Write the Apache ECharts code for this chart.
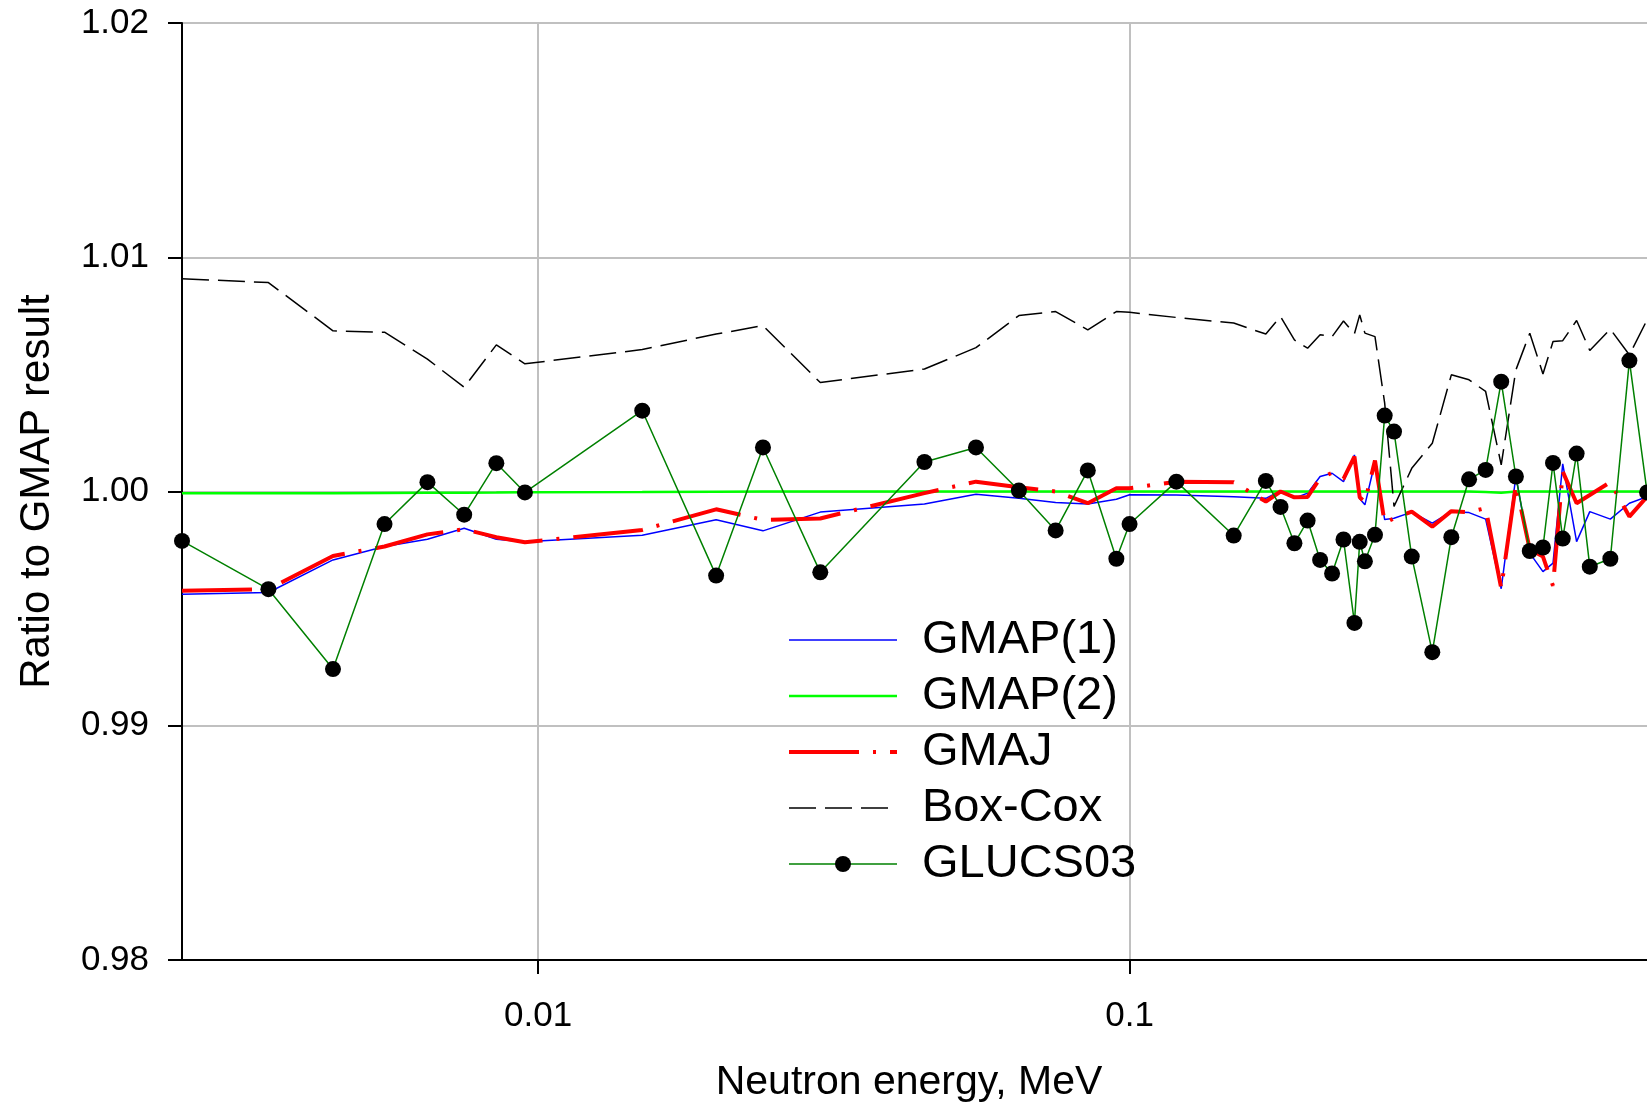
<!DOCTYPE html>
<html><head><meta charset="utf-8">
<script src="https://cdn.jsdelivr.net/npm/echarts@6/dist/echarts.min.js"></script>
<style>html,body{margin:0;padding:0;background:#fff;overflow:hidden}#c{width:1647px;height:1108px}</style>
</head><body><div id="c"></div>
<script>
const FONT = "'Liberation Sans', Arial, sans-serif";

const energies = [0.0025, 0.0035, 0.0045, 0.0055, 0.0065, 0.0075, 0.0085, 0.0095, 0.015, 0.02,
  0.024, 0.03, 0.045, 0.055, 0.065, 0.075, 0.085, 0.095, 0.1, 0.12,
  0.15, 0.17, 0.18, 0.19, 0.2, 0.21, 0.22, 0.23, 0.24, 0.245,
  0.25, 0.26, 0.27, 0.28, 0.3, 0.325, 0.35, 0.375, 0.4, 0.425,
  0.45, 0.475, 0.5, 0.52, 0.54, 0.57, 0.6, 0.65, 0.7, 0.75];

const gmap1 = [0.99561, 0.99569, 0.99708, 0.99765, 0.99796, 0.99843, 0.99796, 0.99786, 0.99813, 0.99879,
  0.99832, 0.99912, 0.99947, 0.99988, 0.99971, 0.99953, 0.99947, 0.99967, 0.99986, 0.99985,
  0.99978, 0.99971, 1.00003, 0.99971, 0.99993, 1.00064, 1.00078, 1.00042, 1.00156, 0.99969,
  0.99943, 1.00125, 0.99880, 0.99886, 0.99912, 0.99865, 0.99914, 0.99910, 0.99882, 0.99585,
  1.00065, 0.99737, 0.99658, 0.99694, 1.00118, 0.99786, 0.99914, 0.99882, 0.99950, 0.99978];

const gmap2 = [0.99992, 0.99993, 0.99993, 0.99994, 0.99995, 0.99995, 0.99996, 0.99997, 0.99998, 0.99999,
  1.0, 1.0, 1.0, 1.0, 1.0, 1.0, 1.0, 1.0, 1.0, 1.0,
  1.0, 1.0, 1.0, 1.0, 1.0, 1.0, 1.0, 1.0, 1.0, 1.0,
  1.0, 1.0, 1.0, 1.0, 1.0, 1.0, 1.0, 1.0, 0.99998, 0.99995,
  1.0, 1.0, 1.0, 1.0, 1.0, 1.0, 1.0, 1.0, 1.0, 1.0];

const gmaj = [0.99576, 0.99583, 0.99725, 0.99765, 0.99817, 0.99839, 0.99805, 0.99783, 0.99836, 0.99924,
  0.99879, 0.99885, 0.99993, 1.00042, 1.00018, 1.00000, 0.99950, 1.00014, 1.00014, 1.00042,
  1.00040, 0.99957, 1.00000, 0.99975, 0.99977, 1.00057, 1.00080, 1.00054, 1.00149, 0.99975,
  0.99955, 1.00132, 0.99865, 0.99886, 0.99914, 0.99850, 0.99916, 0.99912, 0.99929, 0.99587,
  1.00030, 0.99753, 0.99722, 0.99597, 1.00085, 0.99950, 0.99985, 1.00040, 0.99893, 0.99978];

const boxCox = [1.00908, 1.00892, 1.00686, 1.00680, 1.00565, 1.00445, 1.00626, 1.00545, 1.00606, 1.00672,
  1.00708, 1.00465, 1.00523, 1.00614, 1.00751, 1.00768, 1.00690, 1.00768, 1.00765, 1.00743,
  1.00719, 1.00672, 1.00747, 1.00647, 1.00612, 1.00669, 1.00661, 1.00728, 1.00673, 1.00754,
  1.00676, 1.00661, 1.00377, 0.99936, 1.00099, 1.00206, 1.00498, 1.00477, 1.00427, 1.00114,
  1.00519, 1.00676, 1.00502, 1.00640, 1.00644, 1.00730, 1.00602, 1.00693, 1.00583, 1.00733];

const glucs03 = [0.99789, 0.99583, 0.99242, 0.99861, 1.00040, 0.99901, 1.00121, 0.99996, 1.00345, 0.99641,
  1.00188, 0.99655, 1.00126, 1.00188, 1.00004, 0.99834, 1.00090, 0.99713, 0.99861, 1.00042,
  0.99812, 1.00045, 0.99934, 0.99779, 0.99876, 0.99708, 0.99650, 0.99795, 0.99439, 0.99785,
  0.99702, 0.99815, 1.00324, 1.00256, 0.99722, 0.99314, 0.99805, 1.00052, 1.00092, 1.00469,
  1.00064, 0.99746, 0.99761, 1.00122, 0.99799, 1.00162, 0.99679, 0.99713, 1.00559, 0.99996];

const xTickValues = [0.01, 0.1];
const xTickLabels = ['0.01', '0.1'];
const seriesNames = ['GMAP(1)', 'GMAP(2)', 'GMAJ', 'Box-Cox', 'GLUCS03'];

function pairs(ys) { return energies.map((e, i) => [e, ys[i]]); }

const chart = echarts.init(document.getElementById('c'), null, {renderer: 'canvas'});
const hidden = {color: 'rgba(0,0,0,0)', borderWidth: 0, borderColor: 'rgba(0,0,0,0)'};

chart.setOption({
  animation: false,
  backgroundColor: '#fff',
  grid: {left: 182, width: 1539, top: 23, height: 937, show: true, borderColor: '#000', borderWidth: 2,
    backgroundColor: 'transparent', containLabel: false, outerBoundsMode: 'none'},
  xAxis: {
    type: 'log', logBase: 10, min: 0.0025, max: 1,
    axisLine: {show: true, onZero: false, lineStyle: {color: '#000', width: 2}},
    axisTick: {show: true, length: 14, lineStyle: {color: '#000', width: 2}, customValues: xTickValues},
    axisLabel: {
      customValues: xTickValues,
      formatter: function (v) { const i = xTickValues.findIndex(t => Math.abs(t - v) / t < 1e-6); return i >= 0 ? xTickLabels[i] : ''; },
      color: '#000', fontSize: 35, fontFamily: FONT, margin: 39
    },
    splitLine: {show: true, lineStyle: {color: '#c0c0c0', width: 2}},
    minorTick: {show: false}
  },
  yAxis: {
    type: 'value', min: 0.98, max: 1.02, interval: 0.01,
    name: 'Ratio to GMAP result', nameLocation: 'middle', nameGap: 124,
    nameTextStyle: {fontSize: 42, fontFamily: FONT, color: '#000'},
    axisLine: {show: true, lineStyle: {color: '#000', width: 2}},
    axisTick: {show: true, length: 14, lineStyle: {color: '#000', width: 2}},
    axisLabel: {formatter: v => v.toFixed(2), color: '#000', fontSize: 35, fontFamily: FONT, margin: 33},
    splitLine: {show: true, lineStyle: {color: '#c0c0c0', width: 2}}
  },
  legend: {
    orient: 'vertical', left: 782, top: 607,
    itemWidth: 108, itemHeight: 20, itemGap: 0,
    textStyle: {fontSize: 47, fontFamily: FONT, color: '#000', lineHeight: 56, padding: [0, 0, 0, 20]},
    lineStyle: {width: 'inherit'},
    data: [
      {name: seriesNames[0], itemStyle: hidden},
      {name: seriesNames[1], itemStyle: hidden},
      {name: seriesNames[2], itemStyle: hidden},
      {name: seriesNames[3], itemStyle: hidden},
      {name: seriesNames[4]}
    ]
  },
  graphic: [{
    type: 'text', x: 909, y: 1083,
    style: {text: 'Neutron energy, MeV', fontSize: 41, fontFamily: FONT, fill: '#000', align: 'center', verticalAlign: 'middle'}
  }],
  series: [
    {name: seriesNames[0], type: 'line', data: pairs(gmap1), symbol: 'none', z: 2,
      lineStyle: {color: '#0000ff', width: 1.5}, itemStyle: {color: '#0000ff'}},
    {name: seriesNames[1], type: 'line', data: pairs(gmap2), symbol: 'none', z: 3,
      lineStyle: {color: '#00ff00', width: 2.5}, itemStyle: {color: '#00ff00'}},
    {name: seriesNames[2], type: 'line', data: pairs(gmaj), symbol: 'none', z: 4,
      lineStyle: {color: '#ff0000', width: 4, type: [70, 14, 3, 14]}, itemStyle: {color: '#ff0000'}},
    {name: seriesNames[3], type: 'line', data: pairs(boxCox), symbol: 'none', z: 5,
      lineStyle: {color: '#000000', width: 1.5, type: [27, 9]}, itemStyle: {color: '#000000'}},
    {name: seriesNames[4], type: 'line', data: pairs(glucs03), symbol: 'circle', symbolSize: 16, z: 6,
      lineStyle: {color: '#008000', width: 1.5}, itemStyle: {color: '#000000', borderWidth: 0}}
  ]
});
</script></body></html>
